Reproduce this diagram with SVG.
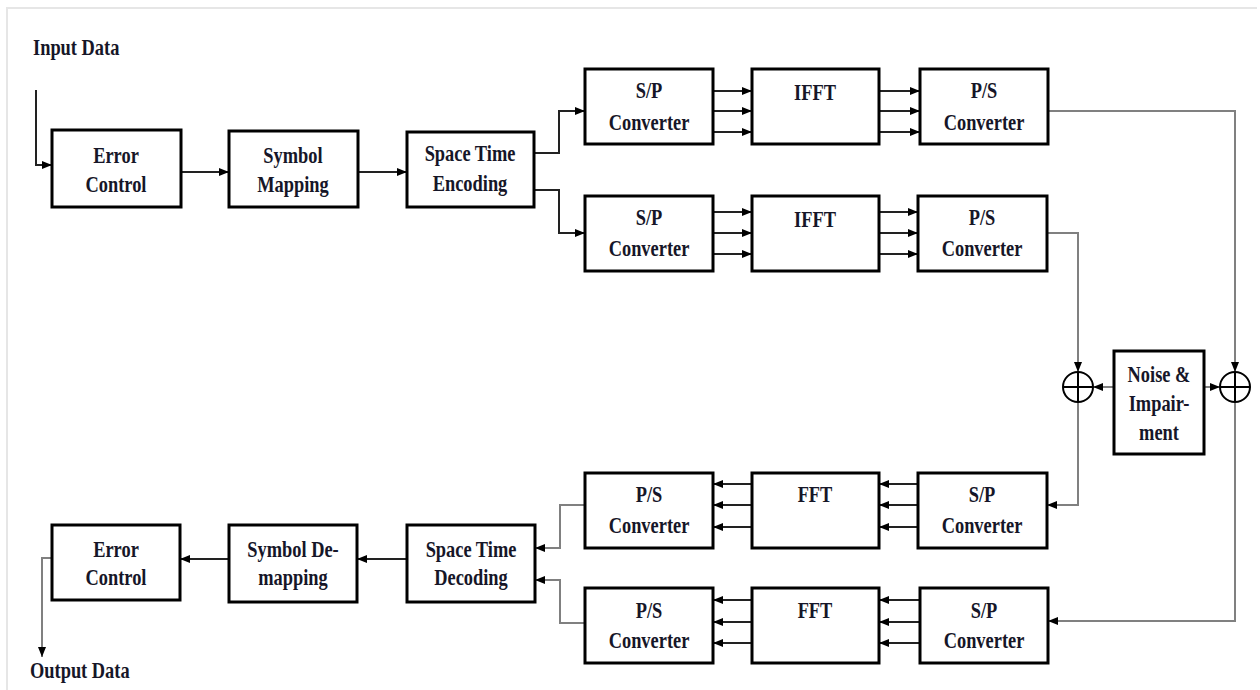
<svg xmlns="http://www.w3.org/2000/svg" width="1260" height="690" viewBox="0 0 1260 690">
<style>
.box{fill:#fff;stroke:#000;stroke-width:3}
text{font-family:'Liberation Serif','Times New Roman','DejaVu Serif',serif;font-weight:bold;font-size:23px;fill:#161628}
.t{text-anchor:middle}
.c{fill:none;stroke:#222;stroke-width:2}
.g{fill:none;stroke:#808080;stroke-width:2}
.sum{fill:#fff;stroke:#000;stroke-width:2}
</style>
<defs>
<marker id="ah" markerUnits="userSpaceOnUse" markerWidth="10" markerHeight="10" viewBox="0 0 10 10" refX="10" refY="5" orient="auto">
<path d="M0,1 L10,5 L0,9 Z" fill="#000"/>
</marker>
</defs>
<rect width="1260" height="690" fill="#fff"/>
<path d="M7,690 V8 H1257" fill="none" stroke="#e6e6e6" stroke-width="2"/>

<g id="label-input"><text font-family="Liberation Serif, serif" transform="translate(33,55) scale(0.8,1)">Input Data</text></g>
<g id="label-output"><text font-family="Liberation Serif, serif" transform="translate(30,678) scale(0.8,1)">Output Data</text></g>

<g id="connectors">
<path class="c" d="M36,90 V165 H52" marker-end="url(#ah)"/>
<path class="c" d="M181,172 H229" marker-end="url(#ah)"/>
<path class="c" d="M358,172 H407" marker-end="url(#ah)"/>
<path class="c" d="M534,153 H559 V111 H585" marker-end="url(#ah)"/>
<path class="c" d="M534,190 H559 V233 H585" marker-end="url(#ah)"/>
<path class="c" d="M713,91 H752" marker-end="url(#ah)"/>
<path class="c" d="M713,111 H752" marker-end="url(#ah)"/>
<path class="c" d="M713,132 H752" marker-end="url(#ah)"/>
<path class="c" d="M879,91 H920" marker-end="url(#ah)"/>
<path class="c" d="M879,111 H920" marker-end="url(#ah)"/>
<path class="c" d="M879,132 H920" marker-end="url(#ah)"/>
<path class="c" d="M713,212 H752" marker-end="url(#ah)"/>
<path class="c" d="M713,233 H752" marker-end="url(#ah)"/>
<path class="c" d="M713,254 H752" marker-end="url(#ah)"/>
<path class="c" d="M879,212 H918" marker-end="url(#ah)"/>
<path class="c" d="M879,233 H918" marker-end="url(#ah)"/>
<path class="c" d="M879,254 H918" marker-end="url(#ah)"/>
<path class="g" d="M1048,111 H1235 V372" marker-end="url(#ah)"/>
<path class="g" d="M1047,233 H1078 V372" marker-end="url(#ah)"/>
<path class="g" d="M1114,387 H1093" marker-end="url(#ah)"/>
<path class="g" d="M1204,387 H1220" marker-end="url(#ah)"/>
<path class="g" d="M1078,402 V505 H1047" marker-end="url(#ah)"/>
<path class="g" d="M1235,402 V621 H1048" marker-end="url(#ah)"/>
<path class="c" d="M918,484 H879" marker-end="url(#ah)"/>
<path class="c" d="M918,505 H879" marker-end="url(#ah)"/>
<path class="c" d="M918,527 H879" marker-end="url(#ah)"/>
<path class="c" d="M752,484 H713" marker-end="url(#ah)"/>
<path class="c" d="M752,505 H713" marker-end="url(#ah)"/>
<path class="c" d="M752,527 H713" marker-end="url(#ah)"/>
<path class="c" d="M920,600 H879" marker-end="url(#ah)"/>
<path class="c" d="M920,622 H879" marker-end="url(#ah)"/>
<path class="c" d="M920,643 H879" marker-end="url(#ah)"/>
<path class="c" d="M752,600 H713" marker-end="url(#ah)"/>
<path class="c" d="M752,622 H713" marker-end="url(#ah)"/>
<path class="c" d="M752,643 H713" marker-end="url(#ah)"/>
<path class="g" d="M585,505 H560 V548 H535" marker-end="url(#ah)"/>
<path class="g" d="M585,623 H560 V580 H535" marker-end="url(#ah)"/>
<path class="c" d="M407,559 H357" marker-end="url(#ah)"/>
<path class="c" d="M229,559 H180" marker-end="url(#ah)"/>
<path class="g" d="M52,558 H42 V657" marker-end="url(#ah)"/>
</g>

<g id="error-control-tx"><rect class="box" x="52" y="130" width="129" height="77"/>
<text class="t" transform="translate(116,163) scale(0.8,1)">Error</text>
<text class="t" transform="translate(116,192) scale(0.8,1)">Control</text></g>
<g id="symbol-mapping"><rect class="box" x="229" y="131" width="129" height="76"/>
<text class="t" transform="translate(293,163) scale(0.8,1)">Symbol</text>
<text class="t" transform="translate(293,192) scale(0.8,1)">Mapping</text></g>
<g id="st-encoding"><rect class="box" x="407" y="132" width="127" height="75"/>
<text class="t" transform="translate(470,161) scale(0.8,1)">Space Time</text>
<text class="t" transform="translate(470,191) scale(0.8,1)">Encoding</text></g>

<g id="sp1"><rect class="box" x="585" y="69" width="128" height="75"/>
<text class="t" transform="translate(649,98) scale(0.8,1)">S/P</text>
<text class="t" transform="translate(649,130) scale(0.8,1)">Converter</text></g>
<g id="ifft1"><rect class="box" x="752" y="69" width="127" height="75"/>
<text class="t" transform="translate(815,100) scale(0.8,1)">IFFT</text></g>
<g id="ps1"><rect class="box" x="920" y="69" width="128" height="75"/>
<text class="t" transform="translate(984,98) scale(0.8,1)">P/S</text>
<text class="t" transform="translate(984,130) scale(0.8,1)">Converter</text></g>

<g id="sp2"><rect class="box" x="585" y="196" width="128" height="75"/>
<text class="t" transform="translate(649,225) scale(0.8,1)">S/P</text>
<text class="t" transform="translate(649,256) scale(0.8,1)">Converter</text></g>
<g id="ifft2"><rect class="box" x="752" y="196" width="127" height="75"/>
<text class="t" transform="translate(815,227) scale(0.8,1)">IFFT</text></g>
<g id="ps2"><rect class="box" x="918" y="196" width="129" height="75"/>
<text class="t" transform="translate(982,225) scale(0.8,1)">P/S</text>
<text class="t" transform="translate(982,256) scale(0.8,1)">Converter</text></g>

<g id="sum-left"><circle class="sum" cx="1078" cy="387" r="15"/>
<path d="M1063,387 H1093 M1078,372 V402" stroke="#000" stroke-width="2"/></g>
<g id="sum-right"><circle class="sum" cx="1235" cy="387" r="15"/>
<path d="M1220,387 H1250 M1235,372 V402" stroke="#000" stroke-width="2"/></g>
<g id="noise"><rect class="box" x="1114" y="351" width="90" height="103"/>
<text class="t" transform="translate(1159,382) scale(0.8,1)">Noise &amp;</text>
<text class="t" transform="translate(1159,411) scale(0.8,1)">Impair-</text>
<text class="t" transform="translate(1159,440) scale(0.8,1)">ment</text></g>

<g id="ps3"><rect class="box" x="585" y="473" width="128" height="75"/>
<text class="t" transform="translate(649,502) scale(0.8,1)">P/S</text>
<text class="t" transform="translate(649,533) scale(0.8,1)">Converter</text></g>
<g id="fft3"><rect class="box" x="752" y="473" width="127" height="75"/>
<text class="t" transform="translate(815,502) scale(0.8,1)">FFT</text></g>
<g id="sp3"><rect class="box" x="918" y="473" width="129" height="75"/>
<text class="t" transform="translate(982,502) scale(0.8,1)">S/P</text>
<text class="t" transform="translate(982,533) scale(0.8,1)">Converter</text></g>

<g id="ps4"><rect class="box" x="585" y="588" width="128" height="75"/>
<text class="t" transform="translate(649,618) scale(0.8,1)">P/S</text>
<text class="t" transform="translate(649,648) scale(0.8,1)">Converter</text></g>
<g id="fft4"><rect class="box" x="752" y="588" width="127" height="75"/>
<text class="t" transform="translate(815,618) scale(0.8,1)">FFT</text></g>
<g id="sp4"><rect class="box" x="920" y="588" width="128" height="75"/>
<text class="t" transform="translate(984,618) scale(0.8,1)">S/P</text>
<text class="t" transform="translate(984,648) scale(0.8,1)">Converter</text></g>

<g id="st-decoding"><rect class="box" x="407" y="525" width="128" height="77"/>
<text class="t" transform="translate(471,557) scale(0.8,1)">Space Time</text>
<text class="t" transform="translate(471,585) scale(0.8,1)">Decoding</text></g>
<g id="symbol-demapping"><rect class="box" x="229" y="525" width="128" height="77"/>
<text class="t" transform="translate(293,557) scale(0.8,1)">Symbol De-</text>
<text class="t" transform="translate(293,585) scale(0.8,1)">mapping</text></g>
<g id="error-control-rx"><rect class="box" x="52" y="525" width="128" height="75"/>
<text class="t" transform="translate(116,557) scale(0.8,1)">Error</text>
<text class="t" transform="translate(116,585) scale(0.8,1)">Control</text></g>
</svg>
